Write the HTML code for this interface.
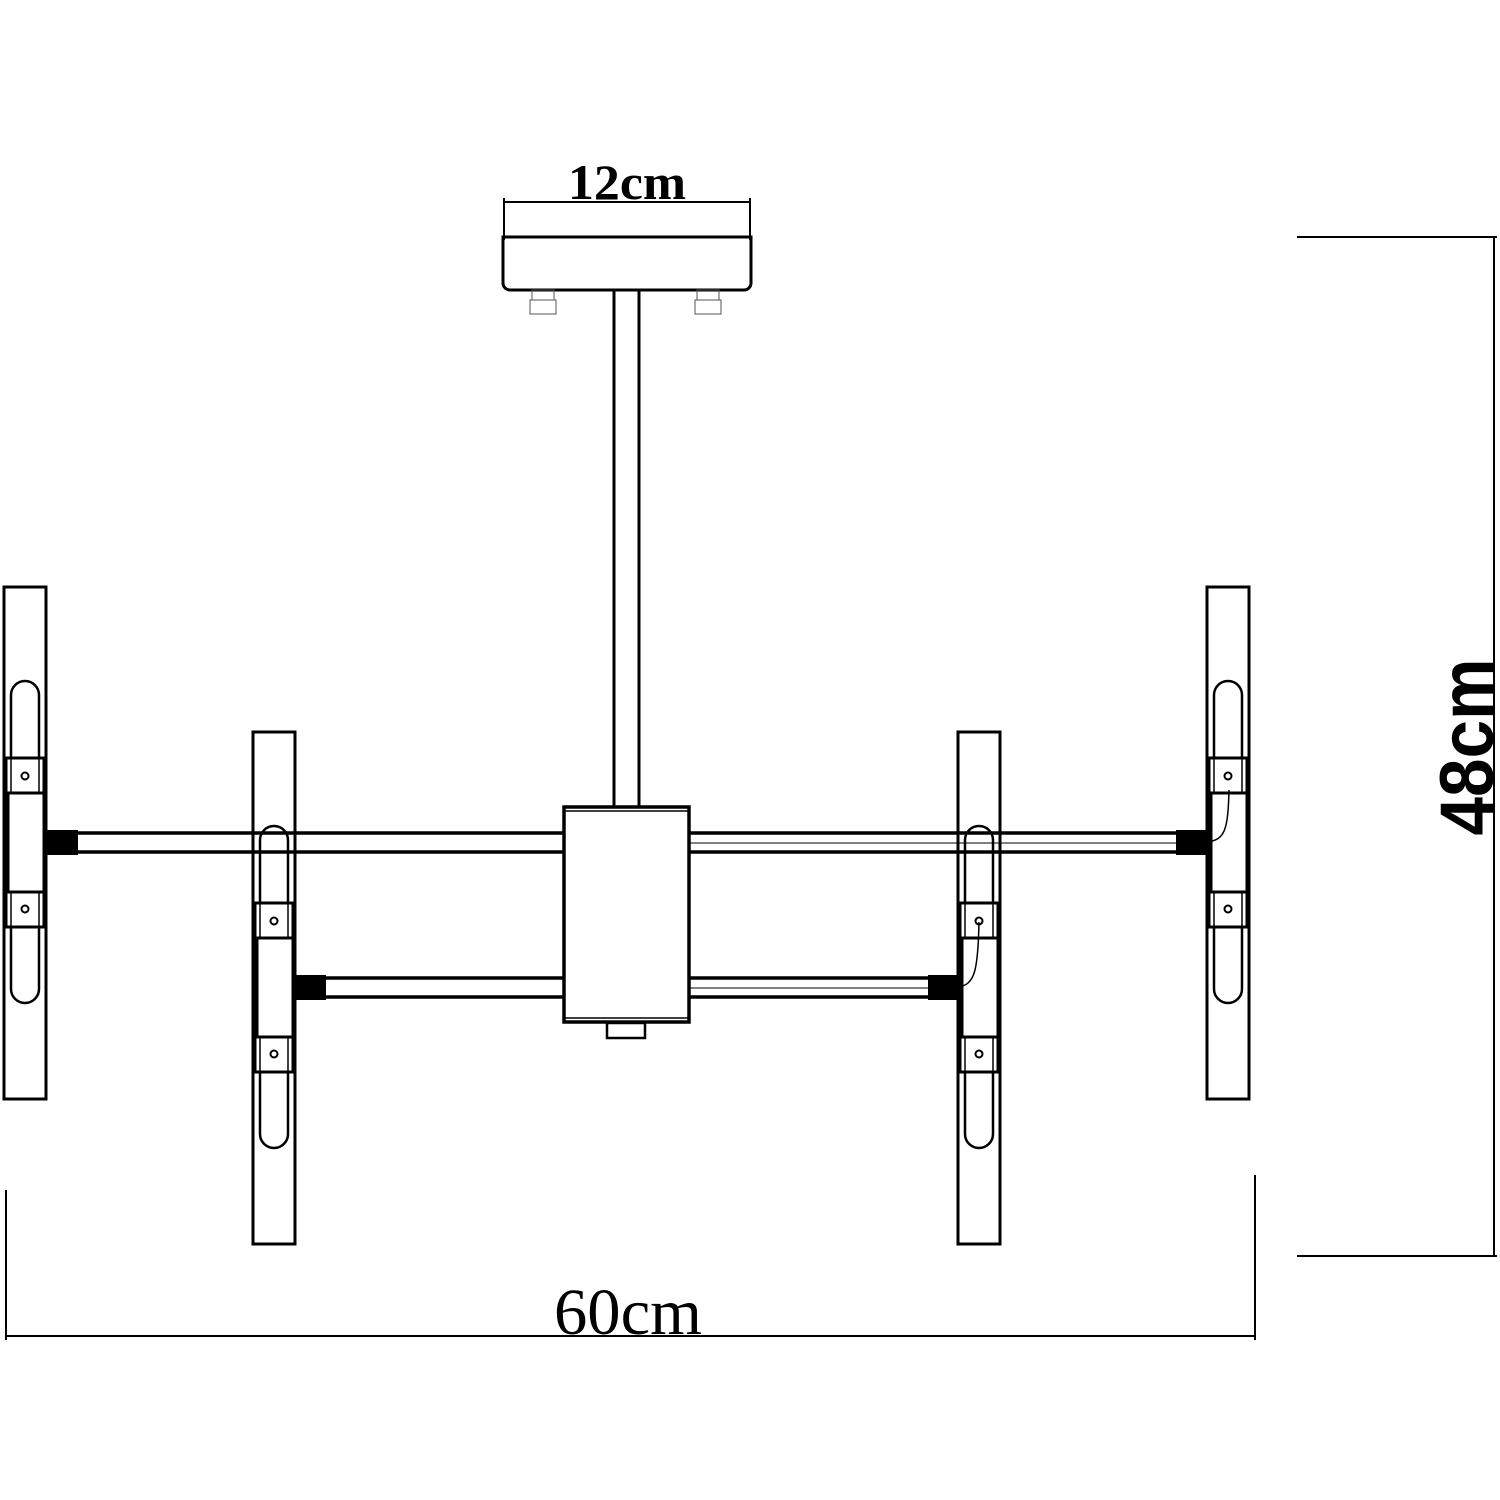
<!DOCTYPE html>
<html><head><meta charset="utf-8"><style>html,body{margin:0;padding:0;background:#fff}svg{display:block}</style></head>
<body>
<svg width="1500" height="1500" viewBox="0 0 1500 1500" xmlns="http://www.w3.org/2000/svg">
<defs>
<g id="lamp">
  <rect x="0" y="0" width="42" height="512" fill="none" stroke="#000" stroke-width="3"/>
  <path d="M7,402 V108 a14,14 0 0 1 28,0 V402 a14,14 0 0 1 -28,0 Z" fill="none" stroke="#000" stroke-width="2.5"/>
  <rect x="2" y="171" width="38" height="35" fill="#fff" stroke="#000" stroke-width="3"/>
  <line x1="7" y1="171" x2="7" y2="206" stroke="#000" stroke-width="1.5"/>
  <line x1="35" y1="171" x2="35" y2="206" stroke="#000" stroke-width="1.5"/>
  <circle cx="21" cy="189" r="3.5" fill="#fff" stroke="#000" stroke-width="2"/>
  <rect x="2" y="305" width="38" height="35" fill="#fff" stroke="#000" stroke-width="3"/>
  <line x1="7" y1="305" x2="7" y2="340" stroke="#000" stroke-width="1.5"/>
  <line x1="35" y1="305" x2="35" y2="340" stroke="#000" stroke-width="1.5"/>
  <circle cx="21" cy="322" r="3.5" fill="#fff" stroke="#000" stroke-width="2"/>
  <rect x="2" y="206" width="38" height="99" fill="#fff" stroke="#000" stroke-width="3"/>
  <line x1="3" y1="206" x2="3" y2="305" stroke="#000" stroke-width="5"/>
</g>
</defs>
<!-- lamps -->
<use href="#lamp" x="4" y="587"/>
<use href="#lamp" x="253" y="732"/>
<use href="#lamp" x="958" y="732"/>
<use href="#lamp" x="1207" y="587"/>
<g stroke="#000" fill="none">
  <!-- 12cm dimension -->
  <line x1="504" y1="202" x2="750" y2="202" stroke-width="2"/>
  <line x1="504" y1="198" x2="504" y2="240" stroke-width="2"/>
  <line x1="750" y1="198" x2="750" y2="240" stroke-width="2"/>
  <!-- canopy -->
  <path d="M503,237 H751 V283 a7,7 0 0 1 -7,7 H510 a7,7 0 0 1 -7,-7 Z" stroke-width="3"/>
  <!-- screws -->
  <rect x="532" y="290" width="22" height="10" stroke-width="1" stroke="#555"/>
  <rect x="530" y="300" width="26" height="14" stroke-width="1" stroke="#555"/>
  <rect x="697" y="290" width="22" height="10" stroke-width="1" stroke="#555"/>
  <rect x="695" y="300" width="26" height="14" stroke-width="1" stroke="#555"/>
  <!-- stem -->
  <line x1="614" y1="290" x2="614" y2="808" stroke-width="3"/>
  <line x1="639" y1="290" x2="639" y2="808" stroke-width="3"/>
  <!-- arms -->
  <g stroke-width="3.5">
    <line x1="46" y1="833" x2="563" y2="833"/><line x1="46" y1="852" x2="563" y2="852"/>
    <line x1="689" y1="833" x2="1176" y2="833"/><line x1="689" y1="852" x2="1176" y2="852"/>
    <line x1="295" y1="978" x2="563" y2="978"/><line x1="295" y1="997" x2="563" y2="997"/>
    <line x1="689" y1="978" x2="928" y2="978"/><line x1="689" y1="997" x2="928" y2="997"/>
  </g>
  <line x1="689" y1="843" x2="1176" y2="843" stroke-width="1"/>
  <line x1="689" y1="988" x2="928" y2="988" stroke-width="1"/>
</g>
<g fill="#000">
  <rect x="46" y="830" width="32" height="25"/>
  <rect x="295" y="975" width="31" height="25"/>
  <rect x="928" y="975" width="30" height="25"/>
  <rect x="1176" y="830" width="31" height="25"/>
</g>
<g stroke="#000" fill="none" stroke-width="1.5">
  <path d="M958,987 C975,985 978,970 979,922"/>
  <path d="M1207,842 C1225,840 1228,830 1229,790"/>
</g>
<!-- center box -->
<g stroke="#000" fill="#fff">
  <rect x="564" y="807" width="125" height="215" stroke-width="3.5"/>
  <line x1="564" y1="811" x2="689" y2="811" stroke-width="1.5"/>
  <line x1="564" y1="1018" x2="689" y2="1018" stroke-width="1.5"/>
  <rect x="607" y="1023" width="38" height="15" stroke-width="2.5"/>
</g>
<!-- 48cm dimension -->
<g stroke="#000" stroke-width="2">
  <line x1="1297" y1="237" x2="1497" y2="237"/>
  <line x1="1297" y1="1256" x2="1497" y2="1256"/>
  <line x1="1494" y1="237" x2="1494" y2="1256"/>
  <!-- 60cm -->
  <line x1="6" y1="1336" x2="1255" y2="1336"/>
  <line x1="6" y1="1190" x2="6" y2="1340"/>
  <line x1="1255" y1="1175" x2="1255" y2="1340"/>
</g>
<text x="627" y="199" font-family="Liberation Serif, serif" font-weight="bold" font-size="50" text-anchor="middle" textLength="118" lengthAdjust="spacingAndGlyphs">12cm</text>
<text x="628" y="1334" font-family="Liberation Serif, serif" font-size="66" text-anchor="middle" textLength="148" lengthAdjust="spacingAndGlyphs">60cm</text>
<text transform="translate(1493,747) rotate(-90)" font-family="Liberation Sans, sans-serif" font-weight="bold" font-size="76" text-anchor="middle" textLength="177" lengthAdjust="spacingAndGlyphs">48cm</text>
</svg>
</body></html>
